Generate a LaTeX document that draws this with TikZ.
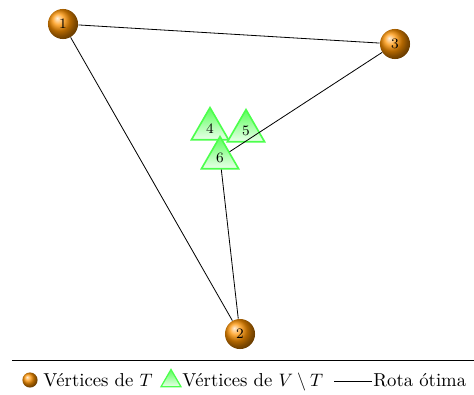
\documentclass[tikz,border=0pt]{standalone}
\usetikzlibrary{shapes.geometric}
\begin{document}
\begin{tikzpicture}[x=0.5556pt,y=-0.5556pt,
  tnode/.style={circle,ball color=orange!85!yellow,minimum size=16.7pt,inner sep=0pt,font=\footnotesize},
  vnode/.style={regular polygon,regular polygon sides=3,draw=green!70,line width=0.9pt,
    top color=green!65,bottom color=green!8,minimum size=23.8pt,inner sep=0pt,font=\footnotesize},
  route/.style={line width=0.45pt,black},
  legtext/.style={anchor=base west,inner sep=0pt,font=\fontsize{10.4}{12}\selectfont}]
\useasboundingbox (0,0) rectangle (474,394);
\node[tnode] (n1) at (63,24) {1};
\node[tnode] (n2) at (240,334) {2};
\node[tnode] (n3) at (395,44) {3};
\node[vnode] (n4) at (210,129) {4};
\node[vnode] (n5) at (246,131) {5};
\node[vnode] (n6) at (220,158) {6};
\draw[route] (n1) -- (n3);
\draw[route] (n3) -- (n6);
\draw[route] (n6) -- (n2);
\draw[route] (n2) -- (n1);
% legend
\coordinate (hl) at (12,360);
\coordinate (hr) at (474,360);
\draw[line width=0.5pt] (hl) -- (hr);
\node[circle,ball color=orange!85!yellow,minimum size=8.4pt,inner sep=0pt] (lb) at (30,380) {};
\node[legtext] (lt1) at (43,386) {V\'ertices de $T$};
\node[regular polygon,regular polygon sides=3,draw=green!70,line width=0.7pt,
    top color=green!65,bottom color=green!8,minimum size=12.8pt,inner sep=0pt] (ltr) at (171,381) {};
\node[legtext] (lt2) at (182,386) {V\'ertices de $V\setminus T$};
\coordinate (la) at (334,381);
\coordinate (lz) at (372,381);
\draw[route] (la) -- (lz);
\node[legtext] (lt3) at (373,386) {Rota \'otima};
\end{tikzpicture}
\end{document}
